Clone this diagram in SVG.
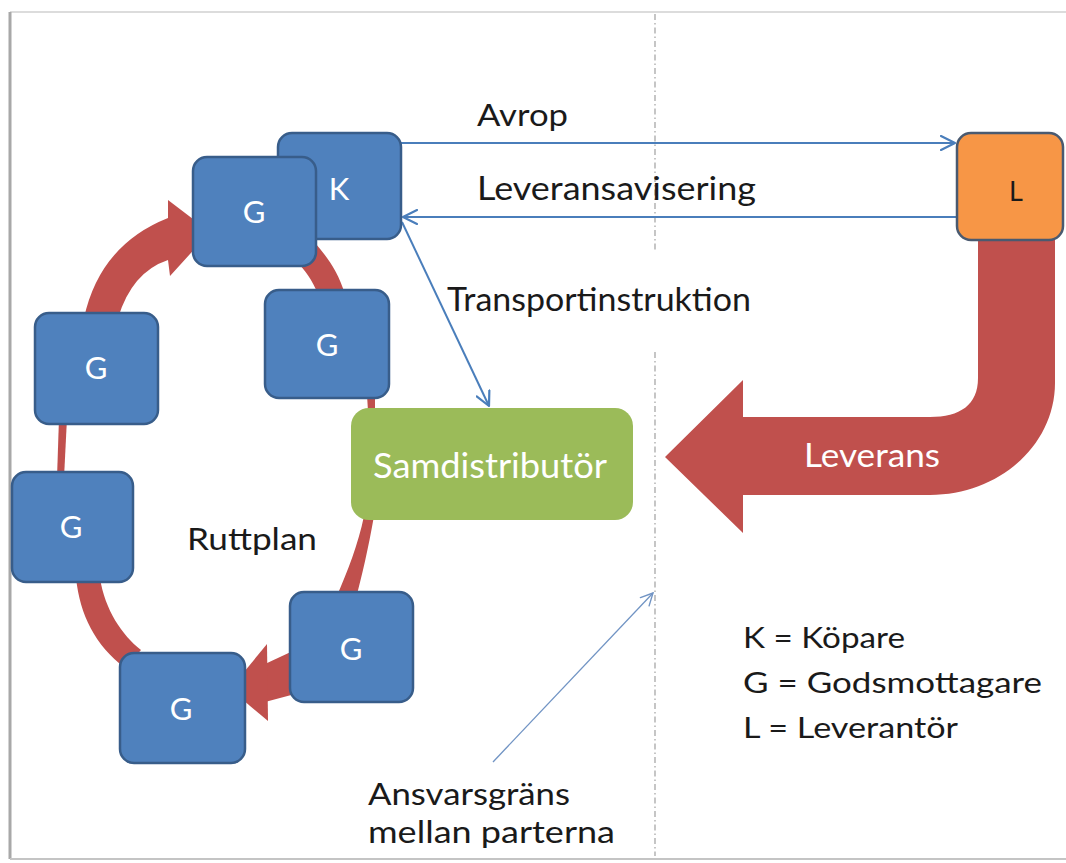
<svg xmlns="http://www.w3.org/2000/svg" width="1066" height="863" viewBox="0 0 1066 863">
<style>
.node rect{fill:#4f81bd;stroke:#385d8a;stroke-width:2.5}
.lbl{font-family:Lato,"Liberation Sans",Arial,sans-serif}
.nl{font-family:Lato,"Liberation Sans",Arial,sans-serif;font-size:31px;fill:#fff;text-anchor:middle}
.txt{fill:#1a1a1a}
.red{fill:#c0504d}
.conn{stroke:#4a7ebb;stroke-width:2;fill:none}
</style>
<defs>
<marker id="open" viewBox="0 0 16 16" refX="15" refY="8" markerWidth="16" markerHeight="16" orient="auto" markerUnits="userSpaceOnUse">
<path d="M1,1 L15,8 L1,15" fill="none" stroke="#4a7ebb" stroke-width="2.2" stroke-linecap="round" stroke-linejoin="round"/>
</marker>
<marker id="thin" viewBox="0 0 14 14" refX="13" refY="7" markerWidth="14" markerHeight="14" orient="auto" markerUnits="userSpaceOnUse">
<path d="M1,1 L13,7 L1,13" fill="none" stroke="#7194c4" stroke-width="1.4" stroke-linecap="round"/>
</marker>
</defs>
<rect x="0" y="0" width="1066" height="863" fill="#fff"/>
<g id="frame">
<line x1="10" y1="12" x2="1066" y2="12" stroke="#dcdcdc" stroke-width="2"/>
<line x1="10" y1="12" x2="10" y2="859" stroke="#a8a8a8" stroke-width="3"/>
<line x1="10" y1="859" x2="1066" y2="859" stroke="#c4c4c4" stroke-width="2"/>
</g>
<g id="boundary" stroke="#a0a0a0" stroke-width="1.2" stroke-dasharray="6 3 1.5 3" fill="none">
<line x1="655" y1="14" x2="655" y2="250"/>
<line x1="655" y1="352" x2="655" y2="856"/>
</g>
<g id="ruttplan-ring" class="red">
<path d="M84 318 Q100 245 168 218 L168 200 L210 232 L170 276 L168 260 Q132 272 118 318 Z"/>
<path d="M59 418 L67 418 L64 478 L57 478 Z"/>
<path d="M76 578 C80 615 95 645 125 668 L141 650 C122 635 105 610 100 578 Z"/>
<path d="M297 262 L316 244 C328 258 338 272 345 294 L318 294 C312 280 305 270 297 262 Z"/>
<path d="M367 394 L375 394 L375 412 L368 412 Z"/>
<path d="M364 516 L374 516 C368 550 362 575 356 598 L336 598 C348 570 358 545 364 516 Z"/>
<path d="M265 664 L295 650 L295 694 L265 702 Z"/>
<path d="M267 644 L230 689 L268 721 Z"/>
</g>
<g id="leverans-arrow">
<path class="red" d="M978 232 L978 378 C978 405 960 417 930 417 L743 417 L743 380 L665 457 L743 533 L743 495 L930 495 C999 495 1055 445 1055 383 L1055 232 Z"/>
<text class="lbl" x="804" y="467" font-size="32" fill="#fff" textLength="136" lengthAdjust="spacingAndGlyphs">Leverans</text>
</g>
<g id="connectors">
<path class="conn" d="M401 143 L955 143" marker-end="url(#open)"/>
<path class="conn" d="M957 217 L403 217" marker-end="url(#open)"/>
<path class="conn" d="M402 222 L489 406" marker-end="url(#open)"/>
<path d="M493 762 L653 593" stroke="#7194c4" stroke-width="1.3" fill="none" marker-end="url(#thin)"/>
</g>
<g id="node-K" class="node"><rect x="278" y="133" width="123" height="106" rx="14"/><text class="nl" x="339" y="200" font-size="29">K</text></g>
<g id="node-G1" class="node"><rect x="193" y="157" width="123" height="109" rx="14"/><text class="nl" x="254" y="223">G</text></g>
<g id="node-G2" class="node"><rect x="265" y="290" width="124" height="108" rx="14"/><text class="nl" x="327" y="356">G</text></g>
<g id="node-G3" class="node"><rect x="35" y="313" width="123" height="111" rx="14"/><text class="nl" x="96" y="379">G</text></g>
<g id="node-G4" class="node"><rect x="12" y="472" width="121" height="110" rx="14"/><text class="nl" x="71" y="538">G</text></g>
<g id="node-G5" class="node"><rect x="290" y="592" width="123" height="110" rx="14"/><text class="nl" x="351" y="660">G</text></g>
<g id="node-G6" class="node"><rect x="120" y="653" width="125" height="110" rx="14"/><text class="nl" x="181" y="720">G</text></g>
<g id="node-L"><rect x="957" y="133" width="106" height="107" rx="14" fill="#f79646" stroke="#4a5a70" stroke-width="2.5"/><text class="lbl" x="1016" y="201" font-size="27" fill="#1a1a1a" text-anchor="middle">L</text></g>
<g id="node-Samdistributor"><rect x="351" y="408" width="282" height="112" rx="18" fill="#9bbb59"/><text class="lbl" x="373" y="478" font-size="34" fill="#fff" textLength="234" lengthAdjust="spacingAndGlyphs">Samdistributör</text></g>
<g id="labels" class="lbl txt">
<text x="477" y="126" font-size="31" textLength="91" lengthAdjust="spacingAndGlyphs">Avrop</text>
<text x="477" y="200" font-size="32" textLength="279" lengthAdjust="spacingAndGlyphs">Leveransavisering</text>
<text x="447" y="311" font-size="32" textLength="304" lengthAdjust="spacingAndGlyphs">Transportinstruktion</text>
<text x="187" y="550" font-size="30" textLength="130" lengthAdjust="spacingAndGlyphs">Ruttplan</text>
<text x="368" y="805" font-size="30" textLength="202" lengthAdjust="spacingAndGlyphs">Ansvarsgräns</text>
<text x="368" y="843" font-size="30" textLength="247" lengthAdjust="spacingAndGlyphs">mellan parterna</text>
<text x="743" y="648" font-size="28" textLength="162" lengthAdjust="spacingAndGlyphs">K = Köpare</text>
<text x="743" y="693" font-size="28" textLength="299" lengthAdjust="spacingAndGlyphs">G = Godsmottagare</text>
<text x="743" y="738" font-size="28" textLength="215" lengthAdjust="spacingAndGlyphs">L = Leverantör</text>
</g>
</svg>
